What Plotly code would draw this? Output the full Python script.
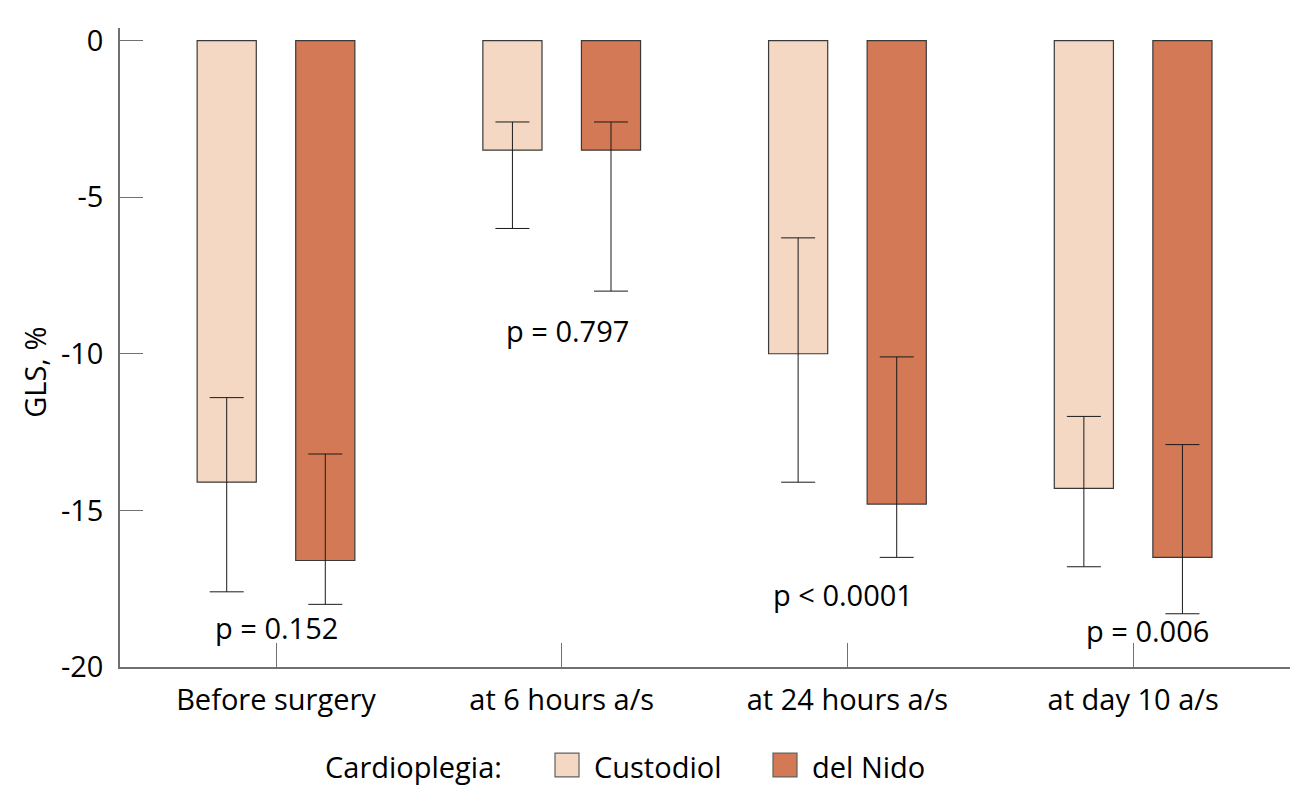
import plotly.graph_objects as go

categories = ["Before surgery", "at 6 hours a/s", "at 24 hours a/s", "at day 10 a/s"]
custodiol_mean = [-14.1, -3.5, -10.0, -14.3]
custodiol_upper = [-11.4, -2.6, -6.3, -12.0]
custodiol_lower = [-17.6, -6.0, -14.1, -16.8]
delnido_mean = [-16.6, -3.5, -14.8, -16.5]
delnido_upper = [-13.2, -2.6, -10.1, -12.9]
delnido_lower = [-18.0, -8.0, -16.5, -18.3]
p_labels = ["p = 0.152", "p = 0.797", "p < 0.0001", "p = 0.006"]
p_label_y = [-18.75, -9.25, -17.7, -18.85]
p_label_dx = [0.0, 0.02, -0.014, 0.05]
y_ticks = [0, -5, -10, -15, -20]

C_LIGHT = "#F4D8C4"
C_DARK = "#D47955"
FONT = "Open Sans"
FS = 29

# page is offset by the default 8px body margin
OFF = 8
W, H = 1314 - OFF, 791 - OFF
X0, X1, Y0, Y1 = 120, 1290, 22, 667   # plot area in page pixels
ML, MT = X0 - OFF, Y0 - OFF
MR, MB = W + OFF - X1, H + OFF - Y1


def px(x):
    return (x - X0) / (X1 - X0)


def py(y):
    return (Y1 - y) / (Y1 - Y0)


def err(mean, upper, lower):
    return ([u - m for m, u in zip(mean, upper)], [m - l for m, l in zip(mean, lower)])


fig = go.Figure()
for name, mean, up, lo, col in [
    ("Custodiol", custodiol_mean, custodiol_upper, custodiol_lower, C_LIGHT),
    ("del Nido", delnido_mean, delnido_upper, delnido_lower, C_DARK),
]:
    a, am = err(mean, up, lo)
    fig.add_trace(go.Bar(
        x=list(range(len(categories))), y=mean, name=name,
        marker=dict(color=col, line=dict(color="#3a3a3a", width=1.2)),
        error_y=dict(type="data", symmetric=False, array=a, arrayminus=am,
                     color="#1a1a1a", thickness=1, width=17),
        showlegend=False,
    ))

for i, (t, yv) in enumerate(zip(p_labels, p_label_y)):
    fig.add_annotation(x=i + p_label_dx[i], y=yv, text=t, showarrow=False,
                       xanchor="center", yanchor="middle",
                       font=dict(size=FS, color="black", family=FONT))

# y-axis title
fig.add_annotation(x=px(35), y=py(370), xref="paper", yref="paper", text="GLS, %",
                   textangle=-90, showarrow=False, xanchor="center", yanchor="middle",
                   font=dict(size=FS, color="black", family=FONT))

# manual legend
fig.add_annotation(x=px(323), y=py(767), xref="paper", yref="paper", text="Cardioplegia:",
                   xanchor="left", yanchor="middle", showarrow=False,
                   font=dict(size=FS, color="black", family=FONT))
for x0, col, label in [(555, C_LIGHT, "Custodiol"), (773, C_DARK, "del Nido")]:
    fig.add_shape(type="rect", xref="paper", yref="paper",
                  x0=px(x0), x1=px(x0 + 24), y0=py(778), y1=py(754),
                  fillcolor=col, line=dict(color="#606060", width=1.2))
    fig.add_annotation(x=px(x0 + 37), y=py(767), xref="paper", yref="paper", text=label,
                       xanchor="left", yanchor="middle", showarrow=False,
                       font=dict(size=FS, color="black", family=FONT))

fig.update_layout(
    width=W, height=H,
    margin=dict(l=ML, r=MR, t=MT, b=MB),
    plot_bgcolor="white", paper_bgcolor="white",
    barmode="group", bargap=0.31, bargroupgap=0.4,
    font=dict(family=FONT, size=FS, color="black"),
)
fig.update_xaxes(
    range=[-0.546, 3.549], tickmode="array", tickvals=list(range(len(categories))),
    ticktext=categories, ticks="inside", ticklen=24, tickcolor="#707070", tickwidth=1,
    showline=True, linecolor="#707070", linewidth=1.5, showgrid=False, zeroline=False,
    tickfont=dict(size=FS, color="black"), ticklabelstandoff=6,
)
fig.update_yaxes(
    range=[-20, 0.4], tickmode="array", tickvals=y_ticks, ticktext=[str(v) for v in y_ticks],
    ticks="inside", ticklen=23, tickcolor="#707070", tickwidth=1,
    showline=True, linecolor="#707070", linewidth=1.5, showgrid=False, zeroline=False,
    tickfont=dict(size=FS, color="black"), ticklabelstandoff=9,
)

fig.write_html("out.html")
